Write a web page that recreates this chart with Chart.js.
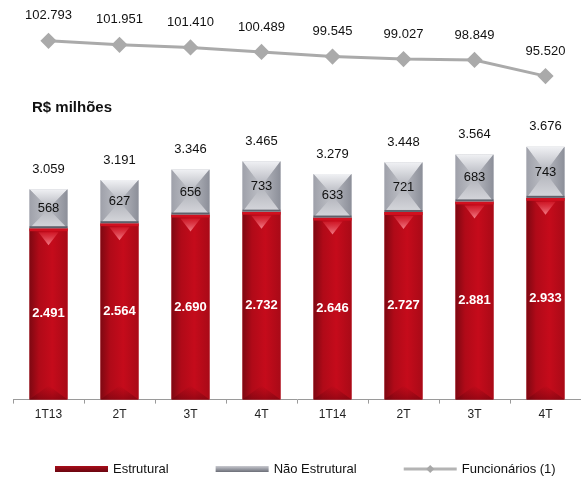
<!DOCTYPE html>
<html lang="pt-BR">
<head>
<meta charset="utf-8">
<title>Despesas de pessoal</title>
<script src="https://cdn.jsdelivr.net/npm/chart.js@4.4.0/dist/chart.umd.min.js"></script>
<style>
  html, body { margin: 0; padding: 0; background: #fff; overflow: hidden; }
  #wrap { position: relative; width: 581px; height: 477px; }
  canvas { display: block; }
</style>
</head>
<body>
<div id="wrap"><canvas id="chart" width="581" height="477"></canvas></div>
<script>
// trimestres e séries (R$ milhões / nº de funcionários)
const quarters = ['1T13', '2T', '3T', '4T', '1T14', '2T', '3T', '4T'];
const estrutural = [2491, 2564, 2690, 2732, 2646, 2727, 2881, 2933];
const naoEstrutural = [568, 627, 656, 733, 633, 721, 683, 743];
const funcionarios = [102793, 101951, 101410, 100489, 99545, 99027, 98849, 95520];
const totais = estrutural.map((v, i) => v + naoEstrutural[i]);

const FONT = '"Liberation Sans", Arial, sans-serif';
Chart.defaults.font.family = FONT;

// 102793 -> "102.793"
function fmt(n) {
  return String(n).replace(/\B(?=(\d{3})+(?!\d))/g, '.');
}

// sombreamento das barras (gradientes) por cima do preenchimento base
const barShading = {
  id: 'barShading',
  afterDatasetsDraw(chart) {
    const ctx = chart.ctx;
    const red = chart.getDatasetMeta(0);
    const gray = chart.getDatasetMeta(1);

    red.data.forEach(bar => {
      const { x, y, base, width } = bar.getProps(['x', 'y', 'base', 'width'], true);
      const l = x - width / 2, r = x + width / 2;
      ctx.save();
      let g = ctx.createLinearGradient(l, 0, r, 0);
      g.addColorStop(0, '#7e0812');
      g.addColorStop(0.25, '#b00a18');
      g.addColorStop(0.6, '#c50b1b');
      g.addColorStop(1, '#a90a17');
      ctx.fillStyle = g;
      ctx.fillRect(l, y, width, base - y);

      // faixa clara no topo e brilho em "V"
      ctx.fillStyle = '#d0101f';
      ctx.fillRect(l, y, width, 3);
      g = ctx.createLinearGradient(0, y + 3, 0, y + 17);
      g.addColorStop(0, 'rgba(215,25,40,0.6)');
      g.addColorStop(1, 'rgba(245,130,140,0.95)');
      ctx.fillStyle = g;
      ctx.beginPath();
      ctx.moveTo(x - 10, y + 4);
      ctx.lineTo(x + 10, y + 4);
      ctx.lineTo(x, y + 17);
      ctx.closePath();
      ctx.fill();

      // base mais escura
      g = ctx.createLinearGradient(0, base - 14, 0, base);
      g.addColorStop(0, 'rgba(90,0,10,0)');
      g.addColorStop(1, 'rgba(90,0,10,0.4)');
      ctx.fillStyle = g;
      ctx.beginPath();
      ctx.moveTo(l, base);
      ctx.lineTo(r, base);
      ctx.lineTo(x, base - 14);
      ctx.closePath();
      ctx.fill();
      ctx.restore();
    });

    gray.data.forEach(bar => {
      const { x, y, base, width } = bar.getProps(['x', 'y', 'base', 'width'], true);
      const l = x - width / 2, r = x + width / 2;
      const cy = (y + base) / 2;
      const tri = (pts, fill) => {
        ctx.beginPath();
        ctx.moveTo(pts[0], pts[1]);
        ctx.lineTo(pts[2], pts[3]);
        ctx.lineTo(pts[4], pts[5]);
        ctx.closePath();
        ctx.fillStyle = fill;
        ctx.fill();
      };
      ctx.save();
      let g = ctx.createLinearGradient(0, y, 0, cy);
      g.addColorStop(0, '#f0f1f4');
      g.addColorStop(1, '#b0b2ba');
      tri([l, y, r, y, x, cy], g);
      g = ctx.createLinearGradient(0, cy, 0, base);
      g.addColorStop(0, '#b2b4bb');
      g.addColorStop(1, '#d6d7dc');
      tri([l, base, r, base, x, cy], g);
      g = ctx.createLinearGradient(l, 0, x, 0);
      g.addColorStop(0, '#9fa1aa');
      g.addColorStop(1, '#bfc1c7');
      tri([l, y, l, base, x, cy], g);
      g = ctx.createLinearGradient(x, 0, r, 0);
      g.addColorStop(0, '#b8bac1');
      g.addColorStop(1, '#8c8f99');
      tri([r, y, r, base, x, cy], g);
      ctx.fillStyle = '#5e616b';
      ctx.fillRect(l, base - 2, width, 2);
      ctx.restore();
    });
  }
};

// rótulos de valores, título e legenda
const annotations = {
  id: 'annotations',
  afterDraw(chart) {
    const ctx = chart.ctx;
    ctx.save();
    ctx.textAlign = 'center';
    ctx.textBaseline = 'middle';

    const red = chart.getDatasetMeta(0).data;
    const gray = chart.getDatasetMeta(1).data;
    const line = chart.getDatasetMeta(2).data;

    red.forEach((bar, i) => {
      ctx.font = 'bold 13px ' + FONT;
      ctx.fillStyle = '#fff';
      ctx.fillText(fmt(estrutural[i]), bar.x, (bar.y + bar.base) / 2);
    });
    gray.forEach((bar, i) => {
      ctx.font = '13px ' + FONT;
      ctx.fillStyle = '#111';
      ctx.fillText(fmt(naoEstrutural[i]), bar.x, (bar.y + bar.base) / 2);
      ctx.fillText(fmt(totais[i]), bar.x, bar.y - 20);
    });
    line.forEach((pt, i) => {
      ctx.font = '13px ' + FONT;
      ctx.fillStyle = '#111';
      ctx.fillText(fmt(funcionarios[i]), pt.x, pt.y - 25);
    });

    ctx.textAlign = 'left';
    ctx.font = 'bold 15px ' + FONT;
    ctx.fillStyle = '#111';
    ctx.fillText('R$ milhões', 32, 108);

    // legenda
    const ly = 469, sw = 53;
    let lx = 55;
    chart.data.datasets.forEach(ds => {
      if (ds.type === 'line') {
        ctx.strokeStyle = '#b4b4b4';
        ctx.lineWidth = 3;
        ctx.beginPath();
        ctx.moveTo(lx, ly);
        ctx.lineTo(lx + sw, ly);
        ctx.stroke();
        ctx.fillStyle = '#a8a8a8';
        ctx.beginPath();
        ctx.moveTo(lx + sw / 2, ly - 4);
        ctx.lineTo(lx + sw / 2 + 4, ly);
        ctx.lineTo(lx + sw / 2, ly + 4);
        ctx.lineTo(lx + sw / 2 - 4, ly);
        ctx.closePath();
        ctx.fill();
      } else {
        const g = ctx.createLinearGradient(0, ly - 3, 0, ly + 3);
        g.addColorStop(0, ds.legendColors[0]);
        g.addColorStop(1, ds.legendColors[1]);
        ctx.fillStyle = g;
        ctx.fillRect(lx, ly - 3, sw, 6);
      }
      ctx.font = '13px ' + FONT;
      ctx.fillStyle = '#111';
      ctx.fillText(ds.label, lx + sw + 5, ly);
      lx += sw + 5 + ctx.measureText(ds.label).width + 47;
    });
    ctx.restore();
  }
};

new Chart(document.getElementById('chart'), {
  data: {
    labels: quarters,
    datasets: [
      {
        type: 'bar',
        label: 'Estrutural',
        data: estrutural,
        yAxisID: 'y',
        backgroundColor: '#b50a18',
        legendColors: ['#a80d19', '#6a0610'],
        barPercentage: 0.535,
        categoryPercentage: 1,
        order: 2
      },
      {
        type: 'bar',
        label: 'Não Estrutural',
        data: naoEstrutural,
        yAxisID: 'y',
        backgroundColor: '#b5b7be',
        legendColors: ['#c9cad0', '#6b6e78'],
        barPercentage: 0.535,
        categoryPercentage: 1,
        order: 2
      },
      {
        type: 'line',
        label: 'Funcionários (1)',
        data: funcionarios,
        yAxisID: 'yLine',
        borderColor: '#aaaaaa',
        borderWidth: 3,
        pointStyle: 'rectRot',
        pointRadius: 6,
        pointBackgroundColor: '#aaaaaa',
        pointBorderColor: '#aaaaaa',
        tension: 0,
        clip: false,
        order: 1
      }
    ]
  },
  options: {
    responsive: false,
    animation: false,
    layout: { autoPadding: false, padding: { left: 13, right: 0, top: 0, bottom: 51 } },
    plugins: {
      legend: { display: false },
      tooltip: { enabled: false }
    },
    scales: {
      x: {
        stacked: true,
        offset: true,
        grid: {
          offset: true,
          drawOnChartArea: false,
          tickLength: 4,
          color: '#9a9a9a'
        },
        border: { color: '#9a9a9a', width: 1 },
        ticks: { color: '#222', font: { size: 12 }, padding: 4, maxRotation: 0, autoSkip: false }
      },
      y: { stacked: true, display: false, min: 0, max: 5808 },
      yLine: { display: false, min: 28978, max: 111178 }
    }
  },
  plugins: [barShading, annotations]
});
</script>
</body>
</html>
